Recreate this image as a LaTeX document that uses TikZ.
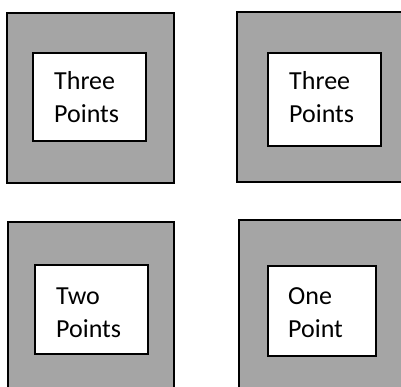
\documentclass[tikz,border=0pt]{standalone}
\usepackage{fontspec}
\setmainfont{Carlito}
\definecolor{boxgray}{HTML}{A5A5A5}
\begin{document}
\begin{tikzpicture}[x=1pt,y=-1pt,
  outerbox/.style={draw=black, fill=boxgray, line width=2pt, rectangle, inner sep=0pt, outer sep=0pt, anchor=north west},
  innerbox/.style={draw=black, fill=white, line width=1.5pt, rectangle, inner sep=0pt, outer sep=0pt, anchor=north west},
  label/.style={align=left, inner sep=0pt, anchor=base west, font=\fontsize{26}{33}\selectfont}]
\useasboundingbox (0,0) rectangle (401,387);
\clip (0,0) rectangle (401,387);
% top left
\node[outerbox, minimum width=167pt, minimum height=170pt] (o1) at (7,13) {};
\node[innerbox, minimum width=113pt, minimum height=88pt] (i1) at (33,53) {};
\node[label] (t1) at (54,123) {Three\\Points};
% top right
\node[outerbox, minimum width=170pt, minimum height=170pt] (o2) at (237,12) {};
\node[innerbox, minimum width=113pt, minimum height=93pt] (i2) at (268,53) {};
\node[label] (t2) at (289,123) {Three\\Points};
% bottom left
\node[outerbox, minimum width=166pt, minimum height=180pt] (o3) at (8,222) {};
\node[innerbox, minimum width=113pt, minimum height=89pt] (i3) at (35,265) {};
\node[label] (t3) at (56,337) {Two\\Points};
% bottom right
\node[outerbox, minimum width=180pt, minimum height=180pt] (o4) at (239,220) {};
\node[innerbox, minimum width=108pt, minimum height=90pt] (i4) at (268,266) {};
\node[label] (t4) at (288,337) {One\\Point};
\end{tikzpicture}
\end{document}
